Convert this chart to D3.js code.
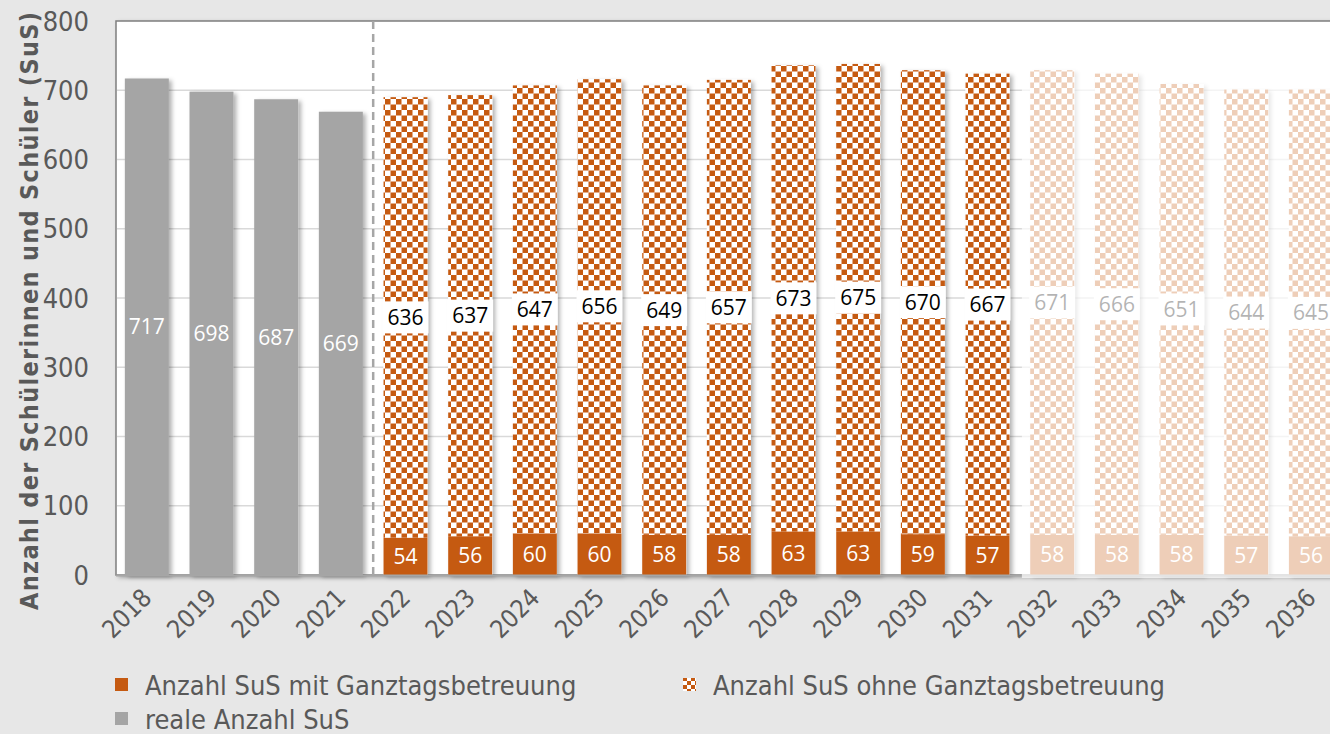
<!DOCTYPE html>
<html>
<head>
<meta charset="utf-8">
<script src="https://cdn.jsdelivr.net/npm/d3@7"></script>
<style>
  html, body { margin: 0; padding: 0; background: #E7E7E7; }
  svg { display: block; }
</style>
</head>
<body>
<svg id="chart" width="1330" height="734"></svg>
<script>
// Schülerzahlen: reale Werte und Prognose
const years = ["2018","2019","2020","2021","2022","2023","2024","2025","2026","2027","2028","2029","2030","2031","2032","2033","2034","2035","2036"];
const realCount = [717, 698, 687, 669, null, null, null, null, null, null, null, null, null, null, null, null, null, null, null];
const withAllDay = [null, null, null, null, 54, 56, 60, 60, 58, 58, 63, 63, 59, 57, 58, 58, 58, 57, 56];
const withoutAllDay = [null, null, null, null, 636, 637, 647, 656, 649, 657, 673, 675, 670, 667, 671, 666, 651, 644, 645];
const yTicks = [0, 100, 200, 300, 400, 500, 600, 700, 800];
const fadedFrom = "2032";
const splitAfter = "2021";

const ORANGE = "#C55A11";
const GREY_BAR = "#A5A5A5";
const TEXT = "#595959";
const FONT_AXIS = "'DejaVu Sans Condensed', 'DejaVu Sans', sans-serif";
const FONT_LABEL = "'Open Sans', 'Noto Sans', sans-serif";

const svg = d3.select("#chart");
const W = 1330, H = 734;
const plot = { left: 116, top: 21, right: 1345, bottom: 575 };

const defs = svg.append("defs");
const pat = defs.append("pattern")
  .attr("id", "checker").attr("patternUnits", "userSpaceOnUse")
  .attr("width", 11).attr("height", 11);
pat.append("rect").attr("width", 11).attr("height", 11).attr("fill", "#fff");
pat.append("rect").attr("width", 5.5).attr("height", 5.5).attr("fill", ORANGE);
pat.append("rect").attr("x", 5.5).attr("y", 5.5).attr("width", 5.5).attr("height", 5.5).attr("fill", ORANGE);

const legPat = defs.append("pattern")
  .attr("id", "checkerLegend").attr("patternUnits", "userSpaceOnUse")
  .attr("width", 8).attr("height", 8);
legPat.append("rect").attr("width", 8).attr("height", 8).attr("fill", "#fff");
legPat.append("rect").attr("width", 4).attr("height", 4).attr("fill", ORANGE);
legPat.append("rect").attr("x", 4).attr("y", 4).attr("width", 4).attr("height", 4).attr("fill", ORANGE);

const shadow = defs.append("filter").attr("id", "shadow")
  .attr("x", "-20%").attr("y", "-5%").attr("width", "150%").attr("height", "115%");
shadow.append("feDropShadow").attr("dx", 3).attr("dy", 2).attr("stdDeviation", 2)
  .attr("flood-color", "#000").attr("flood-opacity", 0.3);

// background
svg.append("rect").attr("width", W).attr("height", H).attr("fill", "#E7E7E7");

const x = d3.scaleBand().domain(years)
  .range([114.5, 114.5 + 19 * 64.67])
  .paddingInner(0.32).paddingOuter(0.16);
const y = d3.scaleLinear().domain([0, 800]).range([plot.bottom, plot.top]);

// plot area
svg.append("rect")
  .attr("x", plot.left).attr("y", plot.top)
  .attr("width", plot.right - plot.left).attr("height", plot.bottom - plot.top)
  .attr("fill", "#fff").attr("stroke", "#7F7F7F").attr("stroke-width", 1.5)
  .attr("filter", "url(#shadow)");

// gridlines
svg.append("g").selectAll("line").data(yTicks.filter(t => t > 0 && t < 800)).join("line")
  .attr("x1", plot.left + 1).attr("x2", plot.right)
  .attr("y1", d => y(d)).attr("y2", d => y(d))
  .attr("stroke", "#D9D9D9").attr("stroke-width", 1.5);

// separator between real and forecast years
const sepX = (x(splitAfter) + x.bandwidth() + x(years[years.indexOf(splitAfter) + 1])) / 2;
svg.append("line")
  .attr("x1", sepX).attr("x2", sepX).attr("y1", plot.top).attr("y2", plot.bottom)
  .attr("stroke", "#A6A6A6").attr("stroke-width", 2.5).attr("stroke-dasharray", "8,5");

const bars = svg.append("g");
const bw = x.bandwidth();

// real counts
bars.selectAll(".real").data(years.map((yr, i) => ({ yr, v: realCount[i] })).filter(d => d.v != null))
  .join("rect").attr("class", "real")
  .attr("x", d => x(d.yr)).attr("width", bw)
  .attr("y", d => y(d.v)).attr("height", d => y(0) - y(d.v))
  .attr("fill", GREY_BAR).attr("filter", "url(#shadow)");

// stacked forecast
const stackData = years.map((yr, i) => ({ yr, mit: withAllDay[i], ohne: withoutAllDay[i] })).filter(d => d.mit != null);
const stacked = d3.stack().keys(["mit", "ohne"])(stackData);

bars.selectAll(".stackBar").data(stackData).join("rect").attr("class", "stackBar")
  .attr("x", d => x(d.yr)).attr("width", bw)
  .attr("y", d => y(d.mit + d.ohne)).attr("height", d => y(0) - y(d.mit + d.ohne))
  .attr("fill", "#fff").attr("filter", "url(#shadow)");

bars.selectAll(".seg-mit").data(stacked[0]).join("rect").attr("class", "seg-mit")
  .attr("x", d => x(d.data.yr)).attr("width", bw)
  .attr("y", d => y(d[1])).attr("height", d => y(d[0]) - y(d[1]))
  .attr("fill", ORANGE);

bars.selectAll(".seg-ohne").data(stacked[1]).join("rect").attr("class", "seg-ohne")
  .attr("x", d => x(d.data.yr)).attr("width", bw)
  .attr("y", d => y(d[1])).attr("height", d => y(d[0]) - y(d[1]))
  .attr("fill", "url(#checker)");

// value labels
const labels = svg.append("g").attr("font-family", FONT_LABEL).attr("font-size", 21).attr("text-anchor", "middle");

labels.selectAll(".lblReal").data(years.map((yr, i) => ({ yr, v: realCount[i] })).filter(d => d.v != null))
  .join("text")
  .attr("x", d => x(d.yr) + bw / 2).attr("y", d => y(d.v / 2)).attr("dy", "0.36em")
  .attr("fill", "#fff").text(d => d.v);

labels.selectAll(".lblMit").data(stacked[0]).join("text")
  .attr("x", d => x(d.data.yr) + bw / 2).attr("y", d => y((d[0] + d[1]) / 2)).attr("dy", "0.36em")
  .attr("fill", "#fff").text(d => d.data.mit);

const ohneLbl = labels.selectAll(".lblOhne").data(stacked[1]).join("g")
  .attr("transform", d => `translate(${x(d.data.yr) + bw / 2},${y((d[0] + d[1]) / 2)})`);
ohneLbl.append("rect").attr("x", -23).attr("y", -16).attr("width", 46).attr("height", 32).attr("fill", "#fff");
ohneLbl.append("text").attr("dy", "0.36em").attr("fill", "#000").text(d => d.data.ohne);

// bottom axis line
svg.append("line")
  .attr("x1", plot.left).attr("x2", plot.right).attr("y1", plot.bottom + 0.5).attr("y2", plot.bottom + 0.5)
  .attr("stroke", "#A6A6A6").attr("stroke-width", 2);

// faded late forecast years
const fadeX = x(fadedFrom) - (x.step() - bw) / 2 + 2;
svg.append("rect")
  .attr("x", fadeX).attr("y", plot.top + 1)
  .attr("width", plot.right - fadeX).attr("height", plot.bottom + 3 - plot.top - 1)
  .attr("fill", "#fff").attr("opacity", 0.7);

// y axis
const yAxis = svg.append("g").attr("font-family", FONT_AXIS).attr("font-size", 27).attr("fill", TEXT).attr("text-anchor", "end");
yAxis.selectAll("text").data(yTicks).join("text")
  .attr("x", 89).attr("y", d => y(d)).attr("dy", "0.36em").text(d => d);

// x axis labels
const xAxis = svg.append("g").attr("font-family", FONT_AXIS).attr("font-size", 25).attr("fill", TEXT).attr("text-anchor", "end");
xAxis.selectAll("text").data(years).join("text")
  .attr("transform", d => `translate(${x(d) + bw / 2 - 6},${plot.bottom + 12}) rotate(-45)`)
  .attr("dy", "0.7em").text(d => d);

// y axis title
svg.append("text")
  .attr("transform", `translate(38,311) rotate(-90)`)
  .attr("text-anchor", "middle").attr("font-family", FONT_AXIS).attr("font-weight", "bold")
  .attr("font-size", 25).attr("fill", TEXT)
  .attr("textLength", 598).attr("lengthAdjust", "spacing")
  .text("Anzahl der Schülerinnen und Schüler (SuS)");

// legend
const legendItems = [
  { label: "Anzahl SuS mit Ganztagsbetreuung", fill: ORANGE, x: 115, y: 685 },
  { label: "Anzahl SuS ohne Ganztagsbetreuung", fill: "url(#checkerLegend)", x: 683, y: 685 },
  { label: "reale Anzahl SuS", fill: GREY_BAR, x: 115, y: 719 }
];
const leg = svg.append("g").attr("font-family", FONT_AXIS).attr("font-size", 27).attr("fill", TEXT);
const li = leg.selectAll("g").data(legendItems).join("g").attr("transform", d => `translate(${d.x},${d.y})`);
li.append("rect").attr("x", 0).attr("y", -7).attr("width", 13).attr("height", 13).attr("fill", d => d.fill);
li.append("text").attr("x", 30).attr("dy", "0.36em").text(d => d.label);
</script>
</body>
</html>
